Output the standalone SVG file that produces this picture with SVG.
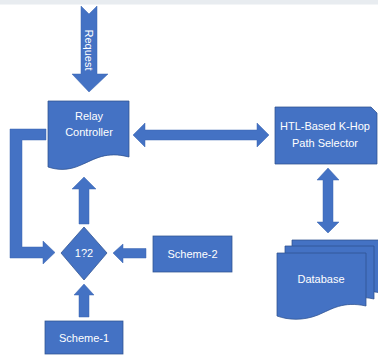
<svg xmlns="http://www.w3.org/2000/svg" width="378" height="355" viewBox="0 0 378 355">
<style>
.s{fill:#4472c4;stroke:#2f528f;stroke-width:0.75}
.a{fill:#4472c4;stroke:#3a64b0;stroke-width:0.5}
.t{fill:#ffffff;font-family:"Liberation Sans",Arial,sans-serif;font-size:11px;text-anchor:middle;dominant-baseline:central}
</style>
<rect width="378" height="355" fill="#ffffff"/>
<rect x="0" y="0" width="378" height="4.5" fill="#e8ecf0"/>
<g id="connectors">
<polygon class="a" points="81,6 89,14 97,6 97,74 108,74 89,92 72,74 81,74"/>
<polygon class="a" points="46,129 10,129 10,258 43,258 43,264 55,252.5 43,241 43,247 22,247 22,140 46,140"/>
<polygon class="a" points="133,135 145,123 145,130 257,130 257,123 269,135 257,147 257,140 145,140 145,147"/>
<polygon class="a" points="328,168 339,180 333,180 333,222 339,222 328,233 317,222 323,222 323,180 317,180"/>
<polygon class="a" points="84,177 96,189 89,189 89,224 79,224 79,189 72,189"/>
<polygon class="a" points="113,253 123,244 123,248.5 146,248.5 146,258 123,258 123,263"/>
<polygon class="a" points="84,284 94,295 89,295 89,317 79,317 79,295 74,295"/>
<text class="t" x="89" y="50" transform="rotate(90 89 50)">Request</text>
</g>
<g id="relay">
<path class="s" d="M48,101 H129 V157 C106,151 95,159 81,165 C68,171 57,170 48,167 Z"/>
<text class="t" x="89" y="116">Relay</text>
<text class="t" x="89" y="132">Controller</text>
</g>
<g id="htl">
<path class="s" d="M275,107 H371 L377,113 V164 H275 Z"/>
<text class="t" x="325" y="126">HTL-Based K-Hop</text>
<text class="t" x="325" y="143">Path Selector</text>
</g>
<g id="decision">
<polygon class="s" points="84,227 107,253 84,280 61,253"/>
<text class="t" x="84" y="253">1?2</text>
</g>
<g id="scheme2">
<rect class="s" x="153" y="236" width="79" height="36"/>
<text class="t" x="192.5" y="254">Scheme-2</text>
</g>
<g id="scheme1">
<rect class="s" x="45" y="321" width="78" height="33"/>
<text class="t" x="84" y="338">Scheme-1</text>
</g>
<g id="database">
<path class="s" d="M292,240 H381 V293 C358,288 347,296 333,302 C318,308 303,307 292,303 Z"/>
<path class="s" d="M285,246 H374 V299 C351,294 340,302 326,308 C311,314 296,313 285,309 Z"/>
<path class="s" d="M277,253 H366 V306 C343,301 332,309 318,315 C303,321 288,320 277,316 Z"/>
<text class="t" x="321" y="279">Database</text>
</g>
</svg>
